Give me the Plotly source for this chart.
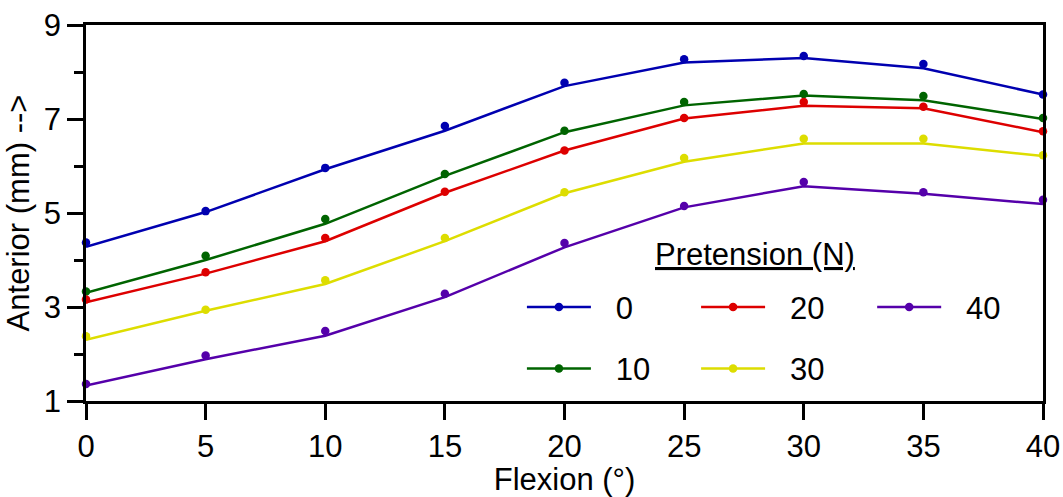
import plotly.graph_objects as go

flexion = [0, 5, 10, 15, 20, 25, 30, 35, 40]
pretension = ["0", "10", "20", "30", "40"]

pts_0 = [4.37, 5.04, 5.96, 6.85, 7.77, 8.27, 8.34, 8.17, 7.52]
fit_0 = [4.28, 5.02, 5.93, 6.75, 7.70, 8.20, 8.30, 8.08, 7.52]
pts_10 = [3.33, 4.09, 4.87, 5.83, 6.75, 7.36, 7.53, 7.49, 7.02]
fit_10 = [3.30, 4.00, 4.77, 5.79, 6.72, 7.29, 7.50, 7.40, 7.00]
pts_20 = [3.16, 3.74, 4.47, 5.45, 6.33, 7.02, 7.36, 7.26, 6.74]
fit_20 = [3.10, 3.71, 4.40, 5.43, 6.33, 7.01, 7.28, 7.23, 6.72]
pts_30 = [2.38, 2.94, 3.57, 4.47, 5.44, 6.17, 6.58, 6.58, 6.23]
fit_30 = [2.30, 2.92, 3.49, 4.40, 5.42, 6.09, 6.48, 6.48, 6.21]
pts_40 = [1.36, 1.97, 2.49, 3.28, 4.36, 5.15, 5.66, 5.44, 5.28]
fit_40 = [1.33, 1.89, 2.39, 3.21, 4.27, 5.12, 5.57, 5.41, 5.19]

y_ticks = [1, 3, 5, 7, 9]
x_ticks = [0, 5, 10, 15, 20, 25, 30, 35, 40]

points = [pts_0, pts_10, pts_20, pts_30, pts_40]
fits = [fit_0, fit_10, fit_20, fit_30, fit_40]
colors = ["#0000B0", "#006400", "#DD0000", "#DDDD00", "#5500AA"]
legend_of = ["legend", "legend", "legend2", "legend2", "legend3"]

FONT = "Liberation Sans, Arial, sans-serif"
FS = 31
PAD = "\u00a0\u00a0\u200a"

fig = go.Figure()
for name, p, f, c, lg in zip(pretension, points, fits, colors, legend_of):
    fig.add_trace(go.Scatter(x=flexion, y=f, mode="lines",
                             line=dict(color=c, width=2.5),
                             showlegend=False, cliponaxis=False))
    fig.add_trace(go.Scatter(x=flexion, y=p, mode="markers",
                             marker=dict(color=c, size=8.5),
                             showlegend=False, cliponaxis=False))
    fig.add_trace(go.Scatter(x=[None], y=[None], mode="lines+markers",
                             line=dict(color=c, width=2.5),
                             marker=dict(color=c, size=8.5),
                             name=PAD + name, legend=lg,
                             legendgroup=name, showlegend=True))

leg_common = dict(font=dict(family=FONT, size=FS, color="black"),
                  bgcolor="rgba(0,0,0,0)", borderwidth=0,
                  itemwidth=64, tracegroupgap=18,
                  xanchor="left", yanchor="top", traceorder="grouped")

fig.update_layout(
    width=1063, height=497,
    margin=dict(l=86, r=20, t=25, b=96),
    paper_bgcolor="white", plot_bgcolor="white",
    font=dict(family=FONT, size=FS, color="black"),
    legend=dict(x=0.4555, y=0.3206, **leg_common),
    legend2=dict(x=0.6375, y=0.3206, **leg_common),
    legend3=dict(x=0.8215, y=0.3206, **leg_common),
    xaxis=dict(range=[0, 40], tickvals=x_ticks, showgrid=False, zeroline=False,
               automargin=False,
               showline=True, linecolor="black", linewidth=2.5, mirror=True,
               ticks="outside", ticklen=16, tickwidth=2.5, tickcolor="black",
               tickfont=dict(family=FONT, size=FS),
               title=dict(text="Flexion (°)", font=dict(family=FONT, size=FS), standoff=8)),
    yaxis=dict(range=[1, 9], tickvals=y_ticks, showgrid=False, zeroline=False,
               automargin=False,
               showline=True, linecolor="black", linewidth=2.5, mirror=True,
               ticks="outside", ticklen=16, tickwidth=2.5, tickcolor="black",
               tickfont=dict(family=FONT, size=FS),
               minor=dict(dtick=1, tick0=0, ticks="outside", ticklen=9,
                          tickwidth=2.5, tickcolor="black", showgrid=False),
               title=dict(text="Anterior (mm) -->", font=dict(family=FONT, size=FS), standoff=5)),
    annotations=[dict(text="<u>Pretension (N)</u>", xref="paper", yref="paper",
                      x=0.699, y=0.39, xanchor="center", yanchor="middle",
                      showarrow=False, font=dict(family=FONT, size=FS, color="black"))],
)

fig.write_html("out.html")
